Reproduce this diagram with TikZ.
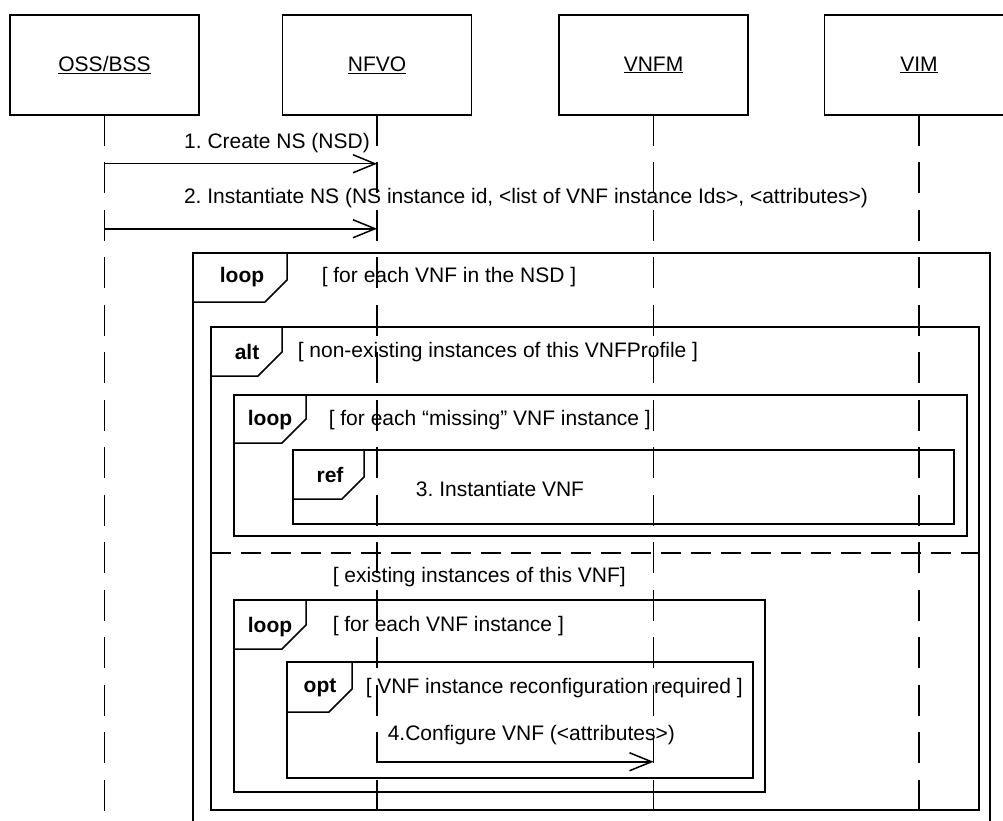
\documentclass[tikz,border=0pt]{standalone}
\usepackage{fontspec}
\setmainfont{Liberation Sans}
\usetikzlibrary{arrows.meta}
\frenchspacing

\begin{document}
\begin{tikzpicture}[x=1pt,y=-1pt,line width=1.5pt,
    font=\fontsize{21}{25}\selectfont,
    head/.style={draw,minimum width=189pt,minimum height=100pt,inner sep=0pt},
    msg/.style={-{Straight Barb[length=22pt,width=18pt]}},
    tag/.style={font=\fontsize{21}{25}\selectfont\bfseries},
    guard/.style={anchor=west,inner sep=0pt}]
  \useasboundingbox (0,0) rectangle (1003,821);

  % Lifeline heads
  \node[head] (oss)  at (104.5,65) {\underline{OSS/BSS}};
  \node[head] (nfvo) at (377,65)   {\underline{NFVO}};
  \node[head] (vnfm) at (653.5,65) {\underline{VNFM}};
  \node[head] (vim)  at (919,65)   {\underline{VIM}};

  % Frames
  \draw (193,253) rectangle (990,840);
  \draw (193,302) -- (265,302) -- (287,280) -- (287,253);
  \node[tag] at (242,277) {loop};
  \node[guard] at (321,277) {[ for each VNF in the NSD ]};

  \draw (211,327) rectangle (979,810);
  \draw (211,376) -- (258,376) -- (282,352) -- (282,327);
  \node[tag] at (247,352) {alt};
  \node[guard] at (297,352) {[ non-existing instances of this VNFProfile ]};
  \draw[dash pattern=on 20pt off 10pt] (211,553) -- (979,553);
  \node[guard] at (332,577) {[ existing instances of this VNF]};

  \draw (234,395) rectangle (967,536);
  \draw (234,443) -- (282,443) -- (306,419) -- (306,395);
  \node[tag] at (270,420) {loop};
  \node[guard] at (328,420) {[ for each “missing” VNF instance ]};

  \draw (293,450) rectangle (954,524);
  \draw (293,499) -- (342,499) -- (364,477) -- (364,450);
  \node[tag] at (330,475) {ref};
  \node (inst) at (500,489) {3. Instantiate VNF};

  \draw (234,600) rectangle (765,792);
  \draw (234,649) -- (282,649) -- (306,625) -- (306,600);
  \node[tag] at (270,627) {loop};
  \node[guard] at (332,626) {[ for each VNF instance ]};

  \draw (287,662) rectangle (753,778);
  \draw (287,712) -- (329,712) -- (352,689) -- (352,662);
  \node[tag] at (320,688) {opt};
  \node[guard] at (365,688) {[ VNF instance reconfiguration required ]};

  % Lifelines
  \foreach \n in {oss,nfvo,vnfm,vim} {
    \draw (\n.south) -- ++(0,30);
    \draw[dash pattern=on 31pt off 16.5pt,dash phase=31pt] (\n.south) ++(0,30) -- ++(0,690);
  }

  % Messages
  \path (oss.south) ++(0,48) coordinate (c1) ++(0,65) coordinate (c2);
  \path (nfvo.south) ++(0,646) coordinate (c4);
  \draw[msg] (c1) -- (c1 -| nfvo.south);
  \node at (277,143) {1. Create NS (NSD)};
  \draw[msg] (c2) -- (c2 -| nfvo.south);
  \node at (526,198) {2. Instantiate NS (NS instance id, <list of VNF instance Ids>, <attributes>)};
  \draw[msg] (c4) -- (c4 -| vnfm.south);
  \node[guard] at (387,735) {4.Configure VNF (<attributes>)};
\end{tikzpicture}
\end{document}
